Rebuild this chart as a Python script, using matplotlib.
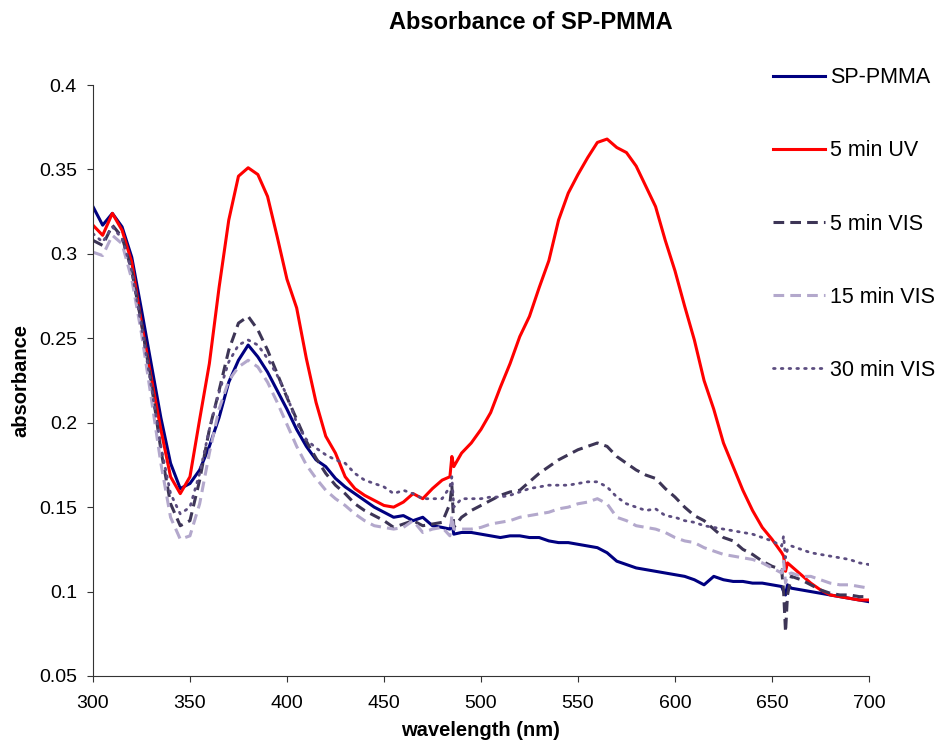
import matplotlib
matplotlib.use('Agg')
import matplotlib.pyplot as plt

plt.rcParams['font.family'] = ['Liberation Sans', 'DejaVu Sans']

wavelength = [300, 305, 310, 315, 320, 325, 330, 335, 340, 345,
              350, 355, 360, 365, 370, 375, 380, 385, 390, 395,
              400, 405, 410, 415, 420, 425, 430, 435, 440, 445,
              450, 455, 460, 465, 470, 475, 480,
              484, 485, 486,
              490, 495, 500, 505, 510, 515, 520, 525, 530, 535,
              540, 545, 550, 555, 560, 565, 570, 575, 580, 585,
              590, 595, 600, 605, 610, 615, 620, 625, 630, 635,
              640, 645, 650, 655,
              656, 657, 658,
              660, 665, 670, 675, 680, 685, 690, 695, 700]

sp_pmma = [0.328, 0.317, 0.324, 0.316, 0.298, 0.267, 0.235, 0.203, 0.176, 0.161,
           0.164, 0.172, 0.186, 0.203, 0.224, 0.237, 0.246, 0.239, 0.230, 0.219,
           0.208, 0.196, 0.186, 0.178, 0.174, 0.167, 0.162, 0.158, 0.154, 0.150,
           0.147, 0.144, 0.145, 0.142, 0.144, 0.139, 0.138,
           0.137, 0.141, 0.134,
           0.135, 0.135, 0.134, 0.133, 0.132, 0.133, 0.133, 0.132, 0.132, 0.130,
           0.129, 0.129, 0.128, 0.127, 0.126, 0.123, 0.118, 0.116, 0.114, 0.113,
           0.112, 0.111, 0.110, 0.109, 0.107, 0.104, 0.109, 0.107, 0.106, 0.106,
           0.105, 0.105, 0.104, 0.103,
           0.100, 0.098, 0.104,
           0.102, 0.101, 0.100, 0.099, 0.098, 0.097, 0.096, 0.095, 0.094]

uv_5min = [0.317, 0.311, 0.324, 0.314, 0.295, 0.259, 0.227, 0.196, 0.168, 0.158,
           0.168, 0.202, 0.235, 0.280, 0.320, 0.346, 0.351, 0.347, 0.334, 0.310,
           0.285, 0.268, 0.238, 0.212, 0.192, 0.182, 0.168, 0.161, 0.157, 0.154,
           0.151, 0.150, 0.153, 0.158, 0.155, 0.161, 0.166,
           0.168, 0.180, 0.174,
           0.182, 0.188, 0.196, 0.206, 0.221, 0.235, 0.251, 0.263, 0.280, 0.296,
           0.320, 0.336, 0.347, 0.357, 0.366, 0.368, 0.363, 0.360, 0.352, 0.340,
           0.328, 0.308, 0.290, 0.269, 0.249, 0.225, 0.208, 0.188, 0.174, 0.160,
           0.148, 0.138, 0.131, 0.123,
           0.121, 0.112, 0.117,
           0.115, 0.110, 0.105, 0.101, 0.098, 0.097, 0.096, 0.095, 0.095]

vis_5min = [0.308, 0.305, 0.317, 0.310, 0.290, 0.259, 0.224, 0.184, 0.152, 0.139,
            0.142, 0.166, 0.196, 0.219, 0.243, 0.259, 0.263, 0.255, 0.243, 0.229,
            0.215, 0.202, 0.189, 0.179, 0.170, 0.163, 0.158, 0.152, 0.148, 0.145,
            0.142, 0.138, 0.140, 0.142, 0.139, 0.140, 0.141,
            0.152, 0.163, 0.138,
            0.144, 0.148, 0.151, 0.154, 0.157, 0.159, 0.160, 0.165, 0.170, 0.174,
            0.178, 0.181, 0.184, 0.186, 0.188, 0.186, 0.180, 0.176, 0.172, 0.169,
            0.167, 0.161, 0.156, 0.150, 0.145, 0.142, 0.137, 0.132, 0.130, 0.125,
            0.122, 0.118, 0.115, 0.113,
            0.100, 0.076, 0.098,
            0.109, 0.107, 0.104, 0.101, 0.099, 0.098, 0.098, 0.097, 0.097]

vis_15min = [0.301, 0.299, 0.311, 0.306, 0.285, 0.253, 0.215, 0.176, 0.144, 0.131,
             0.133, 0.152, 0.182, 0.208, 0.225, 0.233, 0.237, 0.233, 0.224, 0.212,
             0.199, 0.186, 0.175, 0.167, 0.160, 0.155, 0.151, 0.146, 0.142, 0.139,
             0.138, 0.137, 0.138, 0.142, 0.135, 0.137, 0.138,
             0.133, 0.145, 0.137,
             0.137, 0.137, 0.138, 0.140, 0.141, 0.142, 0.144, 0.145, 0.146, 0.147,
             0.149, 0.150, 0.152, 0.153, 0.155, 0.152, 0.144, 0.142, 0.139, 0.138,
             0.137, 0.135, 0.132, 0.130, 0.129, 0.126, 0.124, 0.122, 0.121, 0.120,
             0.119, 0.117, 0.114, 0.111,
             0.118, 0.105, 0.110,
             0.111, 0.109, 0.109, 0.107, 0.105, 0.104, 0.104, 0.103, 0.102]

vis_30min = [0.312, 0.307, 0.316, 0.309, 0.290, 0.257, 0.222, 0.186, 0.158, 0.146,
             0.150, 0.170, 0.196, 0.218, 0.236, 0.246, 0.249, 0.246, 0.238, 0.228,
             0.216, 0.200, 0.190, 0.185, 0.181, 0.178, 0.176, 0.170, 0.166, 0.164,
             0.162, 0.158, 0.160, 0.158, 0.155, 0.155, 0.155,
             0.162, 0.168, 0.150,
             0.155, 0.155, 0.155, 0.156, 0.156, 0.157, 0.159, 0.161, 0.162, 0.163,
             0.163, 0.163, 0.164, 0.165, 0.165, 0.162, 0.156, 0.152, 0.150, 0.148,
             0.149, 0.145, 0.144, 0.142, 0.141, 0.139, 0.138, 0.137, 0.136, 0.135,
             0.134, 0.132, 0.130, 0.127,
             0.133, 0.120, 0.125,
             0.127, 0.125, 0.123, 0.122, 0.121, 0.120, 0.119, 0.117, 0.116]

x_ticks = [300, 350, 400, 450, 500, 550, 600, 650, 700]
y_ticks = [0.05, 0.1, 0.15, 0.2, 0.25, 0.3, 0.35, 0.4]
y_tick_labels = ['0.05', '0.1', '0.15', '0.2', '0.25', '0.3', '0.35', '0.4']

fig = plt.figure(figsize=(9.38, 7.4), dpi=100)
ax = fig.add_axes([0.0991, 0.0865, 0.8273, 0.7986])

ax.plot(wavelength, sp_pmma, color='#000080', lw=2.2, label='SP-PMMA')
ax.plot(wavelength, uv_5min, color='#ff0000', lw=2.2, label='5 min UV')
ax.plot(wavelength, vis_5min, color='#3d3556', lw=2.2, ls=(0, (3.5, 2)), label='5 min VIS')
ax.plot(wavelength, vis_15min, color='#b3a8cc', lw=2.2, ls=(0, (3.5, 2)), label='15 min VIS')
ax.plot(wavelength, vis_30min, color='#5c4d80', lw=2.0, ls=(0, (0.6, 2.2)),
        dash_capstyle='round', label='30 min VIS')

ax.set_xlim(300, 700)
ax.set_ylim(0.05, 0.4)
ax.set_xticks(x_ticks)
ax.set_yticks(y_ticks)
ax.set_yticklabels(y_tick_labels)
ax.tick_params(axis='both', labelsize=14, direction='out', length=4, width=0.8, color='#333333')
ax.tick_params(axis='x', pad=10)
ax.tick_params(axis='y', pad=7.5)
for s in ['top', 'right']:
    ax.spines[s].set_visible(False)
for s in ['left', 'bottom']:
    ax.spines[s].set_color('#333333')
    ax.spines[s].set_linewidth(0.8)

ax.set_xlabel('wavelength (nm)', fontsize=14.5, fontweight='bold', labelpad=6.5)
ax.set_ylabel('absorbance', fontsize=14.5, fontweight='bold', labelpad=6)

fig.text(0.566, 0.969, 'Absorbance of SP-PMMA', ha='center', va='center',
         fontsize=17, fontweight='bold')

fig.legend(loc='upper left', bbox_to_anchor=(0.824, 0.909), frameon=False,
           fontsize=15.5, labelspacing=2.42, handlelength=2.42, handletextpad=0.23,
           borderpad=0, borderaxespad=0)

fig.savefig('out.png', dpi=100)
